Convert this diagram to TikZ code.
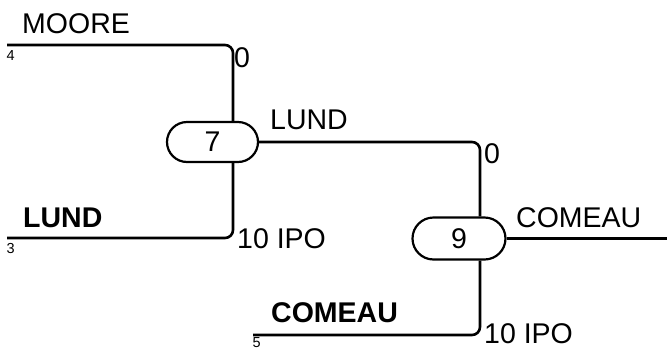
\documentclass[tikz,border=0pt]{standalone}
\usepackage{fontspec}
\setmainfont{Liberation Sans}
\usetikzlibrary{shapes.misc}
\begin{document}
\begin{tikzpicture}[x=1pt,y=-1pt,
  wire/.style={line width=2.6pt,rounded corners=8pt},
  gate/.style={draw,line width=2.2pt,rounded rectangle,minimum width=91pt,minimum height=40pt,inner sep=0pt,font=\fontsize{28.5}{28.5}\selectfont},
  lbl/.style={anchor=base west,inner sep=0pt,font=\fontsize{28.5}{28.5}\selectfont},
  blbl/.style={anchor=base west,inner sep=0pt,font=\fontsize{28.5}{28.5}\selectfont\bfseries},
  sml/.style={anchor=base west,inner sep=0pt,font=\fontsize{14.5}{14.5}\selectfont}]
\useasboundingbox (0,0) rectangle (667,349);
\node[gate] (n7) at (212.5,142) {7};
\node[gate,minimum width=93pt,minimum height=42pt] (n9) at (459,238.5) {9};
\coordinate (m4) at (7,45);
\coordinate (l3) at (7,238);
\coordinate (c5) at (253,335);
\coordinate (out) at (667,238.5);
\draw[wire] (m4) -| ([xshift=20.5pt]n7.north);
\draw[wire] (l3) -| ([xshift=20.5pt]n7.south);
\draw[wire] (n7.east) -| ([xshift=21pt]n9.north);
\draw[wire] (c5) -| ([xshift=21pt]n9.south);
\draw[wire] (n9.east) -- (out);
\node[lbl] (tmoore) at (22,33) {MOORE};
\node[sml] (t4) at (6.5,60) {4};
\node[lbl] (t0a) at (234,67) {0};
\node[blbl] (tlund) at (23,227) {LUND};
\node[sml] (t3) at (6.5,253.5) {3};
\node[lbl] (tipo1) at (237,248) {10 IPO};
\node[lbl] (tlund2) at (270,129) {LUND};
\node[lbl] (t0b) at (484,163) {0};
\node[lbl] (tcom) at (516,227) {COMEAU};
\node[blbl] (tcomb) at (271,322) {COMEAU};
\node[sml] (t5) at (252.5,347) {5};
\node[lbl] (tipo2) at (484,343) {10 IPO};
\end{tikzpicture}
\end{document}
